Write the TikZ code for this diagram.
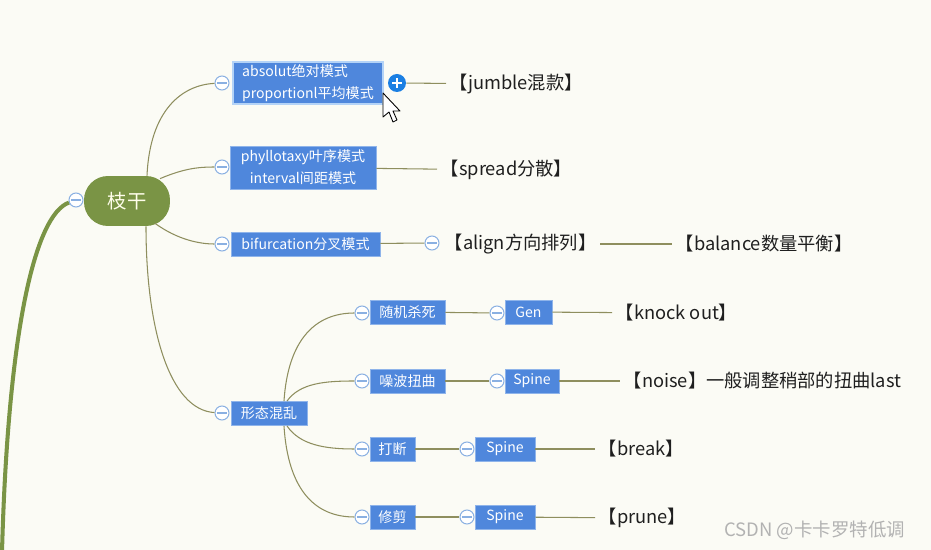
\documentclass[tikz,border=0pt]{standalone}
\usepackage{fontspec}
\setmainfont{Noto Sans CJK SC}

\definecolor{sfondo}{HTML}{FBFBF5}
\definecolor{oliva}{HTML}{7A9445}
\definecolor{filo}{HTML}{8E8E5E}
\definecolor{blu}{HTML}{4F87DC}
\definecolor{bordoblu}{HTML}{8FB4EA}
\definecolor{evidenza}{HTML}{B4D3F7}
\definecolor{cerchio}{HTML}{8AB0E2}
\definecolor{piublu}{HTML}{1B7FE3}

\begin{document}
\begin{tikzpicture}[x=0.02cm, y=-0.02cm,
    scatola/.style={fill=blu, draw=bordoblu, line width=0.5pt, text=white,
        font=\fontsize{8}{12.5}\selectfont, inner sep=0pt, align=center,
        minimum height=0.48cm},
    piega/.style={circle, draw=cerchio, fill=white, line width=0.6pt,
        minimum size=0.28cm, inner sep=0pt,
        path picture={\draw[cerchio, line width=0.6pt]
            ([xshift=-0.1cm]path picture bounding box.center) --
            ([xshift=0.1cm]path picture bounding box.center);}},
    ramo/.style={draw=filo, line width=0.6pt},
    etichetta/.style={font=\fontsize{10.4}{12}\selectfont, text=black!88,
        inner xsep=2pt, inner ysep=0pt, anchor=west}]

    % Sfondo
    \path[use as bounding box, fill=sfondo] (0,0) rectangle (931,550);

    % Tronco principale
    \coordinate (base) at (2,552);
    \node[piega] (k0) at (76,200) {};
    \draw[oliva, line width=2.3pt] (base) .. controls (8,330) and (35,215) .. (k0);
    \node[fill=oliva, rounded corners=0.48cm, minimum width=1.72cm,
        minimum height=1cm, text=white!92!yellow,
        font=\fontsize{11}{12}\selectfont] (tronco) at (127,201) {枝干};

    % Primo livello
    \node[piega] (p1) at (222,83) {};
    \node[piega] (p2) at (222,167) {};
    \node[piega] (p3) at (222,244) {};
    \node[piega] (p4) at (222,413) {};

    \node[scatola, align=left, minimum width=3cm, minimum height=0.84cm,
        draw=evidenza, line width=1.6pt] (m1) at (308,83)
        {absolut绝对模式\\proportionl平均模式};
    \node[scatola, minimum width=2.92cm, minimum height=0.86cm] (m2) at (303,167.5)
        {phyllotaxy叶序模式\\interval间距模式};
    \node[scatola, minimum width=2.98cm] (m3) at (305.5,244) {bifurcation分叉模式};
    \node[scatola, minimum width=1.52cm] (m4) at (269,413.5) {形态混乱};

    \draw[ramo] ([xshift=0.4cm]tronco.north) .. controls (150,110) and (182,85) .. (p1);
    \draw[ramo] ([xshift=0.66cm,yshift=-0.06cm]tronco.north) .. controls (185,168) and (200,167) .. (p2);
    \draw[ramo] ([xshift=0.56cm,yshift=0.06cm]tronco.south) .. controls (178,240) and (200,244) .. (p3);
    \draw[ramo] ([xshift=0.38cm]tronco.south) .. controls (146,330) and (170,410) .. (p4);

    % Ramo jumble
    \node[circle, fill=piublu, minimum size=0.36cm, inner sep=0pt] (piu) at (397,83) {};
    \draw[white, line width=1.2pt] ([xshift=-0.1cm]piu.center) -- ([xshift=0.1cm]piu.center)
        ([yshift=-0.1cm]piu.center) -- ([yshift=0.1cm]piu.center);
    \node[etichetta] (e1) at (446,84) {【jumble混款】};
    \draw[ramo] (piu) -- (e1);

    % Puntatore del mouse
    \draw[fill=white, line width=0.5pt, line join=round]
        (383,93) -- (383,117) -- (389,112) -- (393,122) -- (397,120)
        -- (393,111) -- (400,111) -- cycle;

    % Ramo spread
    \node[etichetta] (e2) at (437,170) {【spread分散】};
    \draw[ramo] (m2) -- (e2);

    % Ramo align / balance
    \node[piega] (a3) at (432,243) {};
    \node[etichetta] (e3) at (441,244) {【align方向排列】};
    \node[etichetta] (e4) at (672,244) {【balance数量平衡】};
    \draw[ramo] (m3) -- (a3);
    \draw[ramo] (e3) -- (e4);

    % Rami di forma
    \node[piega] (q1) at (362,313) {};
    \node[piega] (q2) at (362,381) {};
    \node[piega] (q3) at (362,449) {};
    \node[piega] (q4) at (362,517) {};

    \node[scatola, minimum width=1.5cm] (s1) at (407.5,312) {随机杀死};
    \node[scatola, minimum width=1.5cm] (s2) at (407.5,381) {噪波扭曲};
    \node[scatola, minimum width=0.9cm] (s3) at (392.5,449) {打断};
    \node[scatola, minimum width=0.9cm] (s4) at (392.5,517) {修剪};

    \draw[ramo] ([xshift=0.3cm]m4.north) .. controls (288,340) and (315,313) .. (q1);
    \draw[ramo] ([xshift=0.36cm]m4.north) .. controls (300,383) and (325,381) .. (q2);
    \draw[ramo] ([xshift=0.36cm]m4.south) .. controls (300,445) and (325,449) .. (q3);
    \draw[ramo] ([xshift=0.3cm]m4.south) .. controls (288,490) and (315,517) .. (q4);

    \node[piega] (r1) at (497,313) {};
    \node[piega] (r2) at (497,381) {};
    \node[piega] (r3) at (467,449) {};
    \node[piega] (r4) at (467,517) {};

    \node[scatola, minimum width=0.94cm] (g1) at (528.5,312) {Gen};
    \node[scatola, minimum width=1.08cm] (g2) at (532,381) {Spine};
    \node[scatola, minimum width=1.2cm] (g3) at (505,449) {Spine};
    \node[scatola, minimum width=1.2cm] (g4) at (505,517) {Spine};

    \draw[ramo] (s1) -- (r1);
    \draw[ramo] (s2) -- (r2);
    \draw[ramo] (s3) -- (r3);
    \draw[ramo] (s4) -- (r4);

    \node[etichetta] (f1) at (612,313) {【knock out】};
    \node[etichetta] (f2) at (620,381) {【noise】一般调整稍部的扭曲last};
    \node[etichetta] (f3) at (595,449) {【break】};
    \node[etichetta] (f4) at (595,518) {【prune】};

    \draw[ramo] (g1) -- (f1);
    \draw[ramo] (g2) -- (f2);
    \draw[ramo] (g3) -- (f3);
    \draw[ramo] (g4) -- (f4);

    % Filigrana
    \node[anchor=west, inner sep=0pt, text=black!30,
        font=\fontsize{10.5}{12}\selectfont] (csdn) at (724,530) {CSDN @卡卡罗特低调};

\end{tikzpicture}
\end{document}
